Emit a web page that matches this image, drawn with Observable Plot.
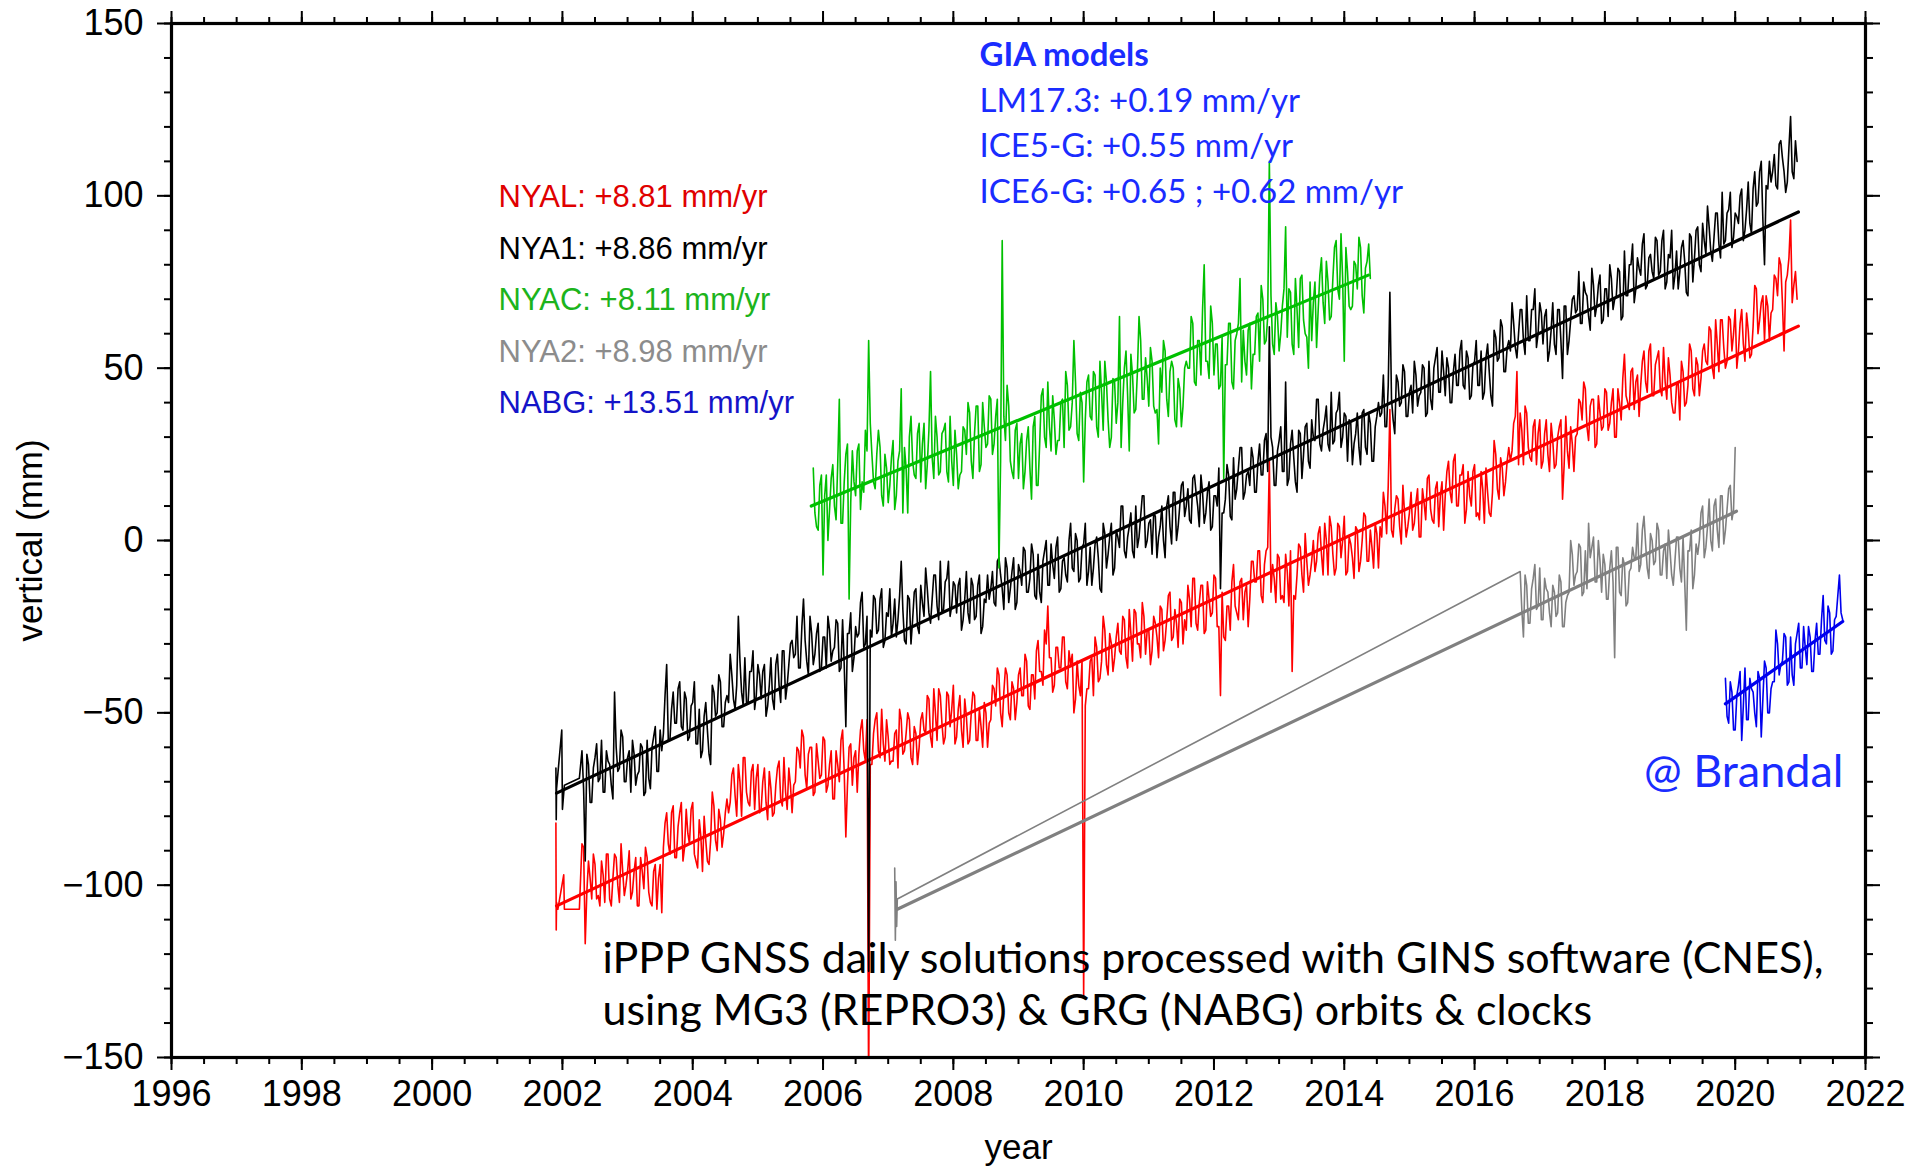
<!DOCTYPE html>
<html><head><meta charset="utf-8">
<script src="https://cdn.jsdelivr.net/npm/d3@7"></script>
<script src="https://cdn.jsdelivr.net/npm/@observablehq/plot@0.6"></script>
<style>html,body{margin:0;padding:0;background:#fff;overflow:hidden}svg{display:block}</style>
</head><body><div id="chart"></div>
<script>
const STEP = 0.025;

// NYA1 (black)
const nya1Head = [[2001.90,-66],[2001.905,-81],[2001.91,-72],[2001.99,-55],[2002.00,-78],[2002.03,-71],[2002.26,-69]];
const nya1Start = 2002.30;
const nya1Values = [
-61,-72,-93,-62,-65,-76,-76,-66,-63,-59, -70,-69,-58,-73,-73,-61,-64,-65,-71,-75,
-44,-60,-67,-66,-55,-57,-70,-70,-63,-61, -73,-58,-62,-71,-68,-67,-59,-60,-74,-73,
-58,-69,-72,-60,-57,-54,-67,-67,-55,-61, -56,-45,-36,-58,-58,-49,-44,-53,-53,-43,
-41,-54,-55,-44,-46,-58,-57,-48,-47,-41, -59,-59,-49,-63,-61,-51,-47,-55,-62,-65,
-42,-44,-51,-50,-39,-41,-54,-54,-47,-45, -47,-33,-39,-46,-49,-42,-22,-35,-44,-48,
-34,-47,-47,-38,-38,-32,-49,-45,-36,-39, -46,-38,-36,-51,-48,-42,-34,-46,-49,-36,
-33,-42,-47,-32,-32,-46,-42,-36,-30,-29, -34,-33,-22,-37,-37,-25,-17,-29,-35,-39,
-22,-27,-36,-33,-27,-24,-38,-37,-28,-28, -37,-22,-26,-35,-32,-31,-23,-24,-38,-37,
-23,-36,-54,-27,-27,-21,-38,-34,-25,-28, -27,-18,-15,-31,-30,-22,-125,-26,-28,-16,
-17,-27,-26,-17,-14,-31,-29,-21,-22,-14, -28,-24,-17,-28,-23,-16,-6,-20,-29,-30,
-16,-17,-30,-23,-15,-14,-25,-27,-13,-18, -22,-8,-14,-21,-24,-17,-10,-10,-19,-23,
-6,-21,-20,-12,-11,-6,-22,-19,-12,-13, -21,-13,-11,-26,-23,-17,-9,-21,-24,-11,
-13,-23,-22,-13,-10,-27,-25,-17,-18,-10, -17,-14,-9,-18,-19,-6,-5,-10,-14,-20,
-5,-8,-18,-14,-9,-5,-20,-18,-7,-9, -13,-2,-3,-15,-15,-11,-1,-4,-16,-17,
-4,-15,-18,-6,-3,0,-13,-13,-1,-7, -11,-2,1,-15,-14,-6,-5,-10,-12,0,
5,-8,-9,2,0,-12,-11,-2,-1,5, -13,-9,-2,-13,-8,-1,1,-5,-14,-15,
5,2,-8,-4,1,5,-10,-8,3,1, -2,10,10,-3,-5,1,4,8,-3,-5,
10,-2,1,7,13,13,-2,0,5,6, -4,8,7,-5,1,4,10,0,-5,10,
13,4,-1,14,14,0,4,10,16,17, 7,10,15,6,5,18,19,14,10,4,
19,14,5,8,14,17,3,4,13,13, 10,21,-14,8,8,12,22,19,7,6,
24,12,15,21,27,27,12,14,19,20, 16,27,24,14,14,23,28,19,19,29,
31,20,62,30,27,16,16,26,29,33, 20,20,46,16,18,28,32,24,17,14,
32,31,18,25,33,34,23,21,35,30, 29,41,41,28,26,32,35,39,28,26,
43,28,29,37,38,43,27,30,37,36, 23,35,34,22,28,31,37,27,22,37,
38,27,25,37,34,23,23,33,36,40, 36,37,48,33,33,45,72,41,35,31,
48,46,39,40,51,49,36,36,43,45, 37,52,48,39,42,43,51,50,36,37,
52,41,38,50,53,56,43,43,55,49, 42,53,50,40,40,49,54,45,45,55,
58,45,44,55,53,41,42,51,52,58, 45,45,55,41,43,53,57,49,42,39,
61,59,52,53,64,62,49,49,56,58, 55,69,63,56,53,60,67,67,58,54,
71,58,58,67,67,73,56,60,69,66, 57,65,67,52,55,61,69,57,54,67,
67,58,47,68,68,54,58,64,70,71, 66,67,78,63,63,75,72,71,65,61,
79,74,65,68,74,77,63,64,73,73, 65,80,76,67,70,71,79,78,64,65,
84,71,71,80,80,86,69,73,82,79, 77,86,89,73,74,82,83,78,76,88,
87,77,78,87,90,73,75,83,82,90, 73,77,84,73,78,85,87,81,72,71,
89,88,75,82,90,91,80,78,92,87, 83,97,91,84,81,88,95,95,86,82,
101,86,87,95,96,101,85,88,95,94, 92,100,102,87,90,96,104,92,89,102,
107,97,98,107,110,93,80,103,102,110, 104,107,112,103,102,115,116,111,107,101,
104,114,123,107,105,116,110];

// NYAL (red)
const nyalHead = [[2001.90,-82],[2001.905,-113],[2001.91,-105],[2001.93,-107],[2002.02,-97],[2002.03,-107],[2002.26,-107]];
const nyalStart = 2002.30;
const nyalValues = [
-88,-89,-117,-102,-93,-98,-104,-91,-94,-104, -103,-106,-93,-97,-105,-91,-91,-104,-106,-98,
-91,-92,-100,-105,-88,-96,-103,-100,-96,-90, -104,-102,-96,-92,-106,-106,-92,-96,-101,-89,
-92,-102,-105,-106,-96,-94,-107,-98,-94,-108, -89,-82,-79,-88,-91,-79,-77,-92,-92,-83,
-79,-76,-93,-89,-78,-85,-88,-78,-76,-91, -93,-95,-81,-86,-96,-80,-87,-93,-94,-87,
-73,-77,-87,-90,-78,-81,-89,-85,-79,-75, -79,-76,-68,-66,-74,-80,-65,-70,-80,-63,
-63,-73,-76,-77,-67,-65,-78,-69,-65,-79, -78,-70,-66,-76,-81,-67,-72,-80,-79,-71,
-66,-64,-75,-77,-63,-73,-78,-66,-71,-79, -71,-70,-60,-61,-66,-55,-57,-68,-72,-62,
-60,-60,-74,-73,-59,-64,-69,-68,-57,-58, -73,-71,-65,-61,-75,-75,-61,-65,-70,-58,
-55,-67,-86,-71,-60,-59,-71,-63,-61,-73, -62,-55,-52,-61,-64,-52,-160,-65,-65,-56,
-52,-50,-61,-63,-49,-59,-64,-52,-57,-65, -64,-64,-56,-55,-66,-49,-52,-62,-61,-56,
-50,-52,-63,-65,-54,-56,-65,-60,-52,-50, -55,-56,-45,-46,-57,-60,-43,-50,-58,-43,
-45,-53,-59,-57,-44,-45,-54,-49,-42,-59, -57,-49,-45,-55,-60,-46,-51,-59,-58,-50,
-44,-45,-58,-58,-49,-54,-60,-47,-50,-60, -53,-52,-42,-43,-48,-37,-39,-50,-54,-44,
-37,-39,-50,-52,-41,-43,-52,-47,-39,-37, -45,-45,-33,-35,-48,-49,-39,-39,-46,-32,
-29,-38,-38,-42,-26,-30,-19,-34,-34,-44, -42,-31,-31,-37,-37,-28,-28,-41,-43,-32,
-36,-33,-50,-46,-35,-42,-45,-35,-132,-48, -43,-43,-35,-34,-45,-28,-31,-41,-40,-35,
-22,-26,-36,-39,-27,-30,-38,-34,-28,-24, -32,-33,-22,-23,-34,-37,-20,-27,-35,-20,
-21,-30,-30,-34,-18,-22,-33,-26,-26,-36, -32,-22,-24,-28,-34,-19,-20,-32,-29,-23,
-16,-15,-29,-28,-20,-24,-31,-17,-18,-30, -23,-26,-13,-17,-25,-11,-11,-24,-26,-18,
-13,-13,-27,-26,-12,-17,-22,-21,-10,-11, -25,-25,-45,-15,-28,-29,-19,-19,-26,-12,
-7,-19,-21,-23,-12,-11,-23,-15,-13,-25, -17,-6,-6,-12,-12,-3,-3,-16,-18,-7,
-3,-2,23,-15,-7,-11,-18,-4,-5,-17, -16,-18,-4,-9,-19,-3,-38,-16,-17,-10,
-1,-2,-10,-15,2,-6,-13,-10,-6,0, -9,-6,2,4,-4,-10,5,0,-10,7,
4,-4,-10,-8,5,4,-5,0,7,-10, -9,1,-1,-5,-11,4,3,-9,-6,0,
8,7,-6,-6,3,-2,-8,5,2,-8, 4,1,14,10,2,16,38,3,1,9,
13,12,4,-1,16,8,1,4,8,14, 3,5,11,15,1,1,15,11,6,18,
19,9,6,5,15,17,4,13,17,3, 13,20,23,14,11,23,25,10,10,19,
19,22,5,9,20,13,10,20,22,7, 8,6,20,15,5,21,14,8,7,14,
29,25,15,12,24,21,13,17,23,27, 23,26,34,36,49,22,37,32,22,39,
37,27,24,23,33,35,22,31,35,21, 23,31,35,25,20,34,29,21,22,30,
33,35,12,22,36,26,21,33,28,20, 30,31,41,40,35,46,44,33,29,39,
41,41,27,28,42,37,32,33,44,43, 32,34,40,44,30,30,44,40,35,47,
54,42,40,38,49,50,38,46,48,36, 45,52,55,46,43,55,57,42,42,51,
53,55,44,42,56,46,41,53,48,40, 37,37,45,46,35,52,49,39,40,45,
57,55,44,42,53,51,42,47,55,57, 52,51,62,61,50,47,64,57,49,64,
64,56,50,52,65,64,55,60,67,50, 55,63,67,57,52,66,61,53,54,62,
74,73,60,64,69,71,58,71,68,58, 66,67,77,76,71,82,80,69,55,75,
77,82,93,69,74,78,70];

// NYAC (green)
const nyacHead = [];
const nyacStart = 2005.85;
const nyacValues = [
21,8,4,3,16,19,-10,13,19,0, 9,18,22,10,6,22,41,5,5,17,
25,28,-17,11,26,17,13,26,28,9, 17,14,32,26,58,34,25,17,15,25,
32,27,13,10,25,21,11,16,24,29, 9,13,23,26,44,8,27,21,8,30,
36,23,19,18,31,34,17,28,34,15, 22,32,49,24,18,36,30,19,20,31,
32,34,20,17,36,23,16,32,25,15, 19,20,33,32,25,40,37,23,18,31,
39,39,20,22,40,33,27,28,42,41, 25,28,36,41,-8,23,87,36,29,45,
39,23,20,18,32,34,18,28,31,15, 20,29,33,21,12,33,36,16,16,28,
42,44,30,27,46,33,26,42,35,25, 29,29,40,41,27,49,45,32,33,40,
58,46,31,29,43,40,17,35,46,48, 36,35,49,48,33,30,52,43,32,52,
46,35,27,30,47,46,34,40,65,27, 40,50,55,42,26,54,48,37,38,49,
65,58,41,41,53,47,39,56,52,39, 37,38,28,50,43,58,55,41,36,49,
52,50,35,33,47,44,33,39,50,52, 50,50,65,63,46,45,58,58,48,67,
80,52,52,47,68,63,48,57,57,44, 45,59,18,51,51,63,63,46,44,58,
60,63,76,46,61,52,48,61,63,44, 54,54,65,66,52,74,70,57,58,65,
110,71,57,54,69,65,55,60,68,73, 91,59,73,72,57,54,76,67,56,76,
77,64,60,59,50,75,58,69,75,56, 67,77,82,69,63,81,75,64,65,76,
85,87,73,70,89,76,52,85,78,68, 67,68,81,80,73,88,85,71,66,79,
81,86,76];

// NYA2 (gray)
const nya2Head = [[2007.10,-95],[2007.11,-116],[2007.12,-99],[2007.13,-112],[2007.14,-104]];
const nya2Start = 2016.70;
const nya2Values = [
-9,-20,-28,-10,-13,-24,-24,-14,-11,-7, -20,-19,-8,-23,-23,-11,-14,-15,-21,-25,
-13,-15,-22,-21,-10,-12,-25,-25,-18,-16, -15,0,-4,-13,-10,-9,-1,-2,-16,-15,
-3,-14,5,-5,-2,1,-12,-12,0,-6, -15,-4,-7,-17,-17,-8,-3,-12,-34,-2,
-2,-15,-16,-5,-7,-19,-18,-9,-8,-2, -5,-5,5,-9,-7,3,7,-1,-8,-11,
2,0,-7,-6,5,3,-10,-10,-3,-1, -11,3,-3,-10,-13,-6,1,1,-8,-12,
1,-12,-26,-3,-3,3,-14,-10,-1,-4, 0,8,10,-5,-2,4,12,0,-3,10,
12,3,-2,13,13,-1,3,9,15,16, 6,9,27];

// NABG (blue)
const nabgHead = [];
const nabgStart = 2019.85;
const nabgValues = [
-40,-51,-53,-41,-44,-55,-55,-45,-42,-38, -58,-48,-37,-52,-52,-40,-43,-44,-50,-54,
-38,-40,-57,-46,-35,-37,-50,-50,-43,-41, -41,-26,-30,-39,-36,-35,-27,-28,-42,-41,
-28,-39,-42,-30,-27,-24,-37,-37,-25,-31, -36,-25,-28,-38,-38,-29,-24,-33,-33,-23,
-16,-29,-30,-19,-21,-33,-32,-23,-22,-16, -10,-21,-23];

// fitted trends [year, mm]
const trendNYAL = [[2001.91,-106],[2020.97,62.2]];
const trendNYA1 = [[2001.91,-73.3],[2020.97,95.3]];
const trendNYAC = [[2005.82,10],[2014.37,77]];
const trendNYA2 = [[2007.14,-107],[2020.02,8.5]];
const trendNABG = [[2019.85,-47.4],[2021.65,-23.5]];

// texts
const legendLabels = ["NYAL: +8.81 mm/yr","NYA1: +8.86 mm/yr","NYAC: +8.11 mm/yr","NYA2: +8.98 mm/yr","NABG: +13.51 mm/yr"];
const legendColors = ["#e00000","#000000","#1cb41c","#8c8c8c","#1414c8"];
const giaLines = ["GIA models","LM17.3: +0.19 mm/yr","ICE5-G: +0.55 mm/yr","ICE6-G: +0.65 ; +0.62 mm/yr"];
const noteLines = ["iPPP GNSS daily solutions processed with GINS software (CNES),","using MG3 (REPRO3) & GRG (NABG) orbits & clocks"];
const placeLabel = "@ Brandal";
const xLabel = "year", yLabel = "vertical (mm)";
const xMajor = d3.range(1996, 2023, 2), xMinor = d3.range(1996, 2022.01, 0.5);
const yMajor = d3.range(-150, 151, 50), yMinor = d3.range(-150, 151, 10);

function series(head, start, values) {
  return head.map(([t, v]) => ({t, v})).concat(values.map((v, i) => ({t: start + i * STEP, v})));
}
const colRed = "#ff0000", colBlack = "#000000", colGreen = "#00c000", colGray = "#808080", colBlue = "#0000ee";
const fmtY = d => d < 0 ? "\u2212" + (-d) : String(d);
const none = () => "";
const sans = "Liberation Sans, Arial, Helvetica, sans-serif";
const calib = "Lato, 'Open Sans', sans-serif";

const dataLine = (d, c) => Plot.line(d, {x: "t", y: "v", stroke: c, strokeWidth: 1.6, clip: true});
const trendLine = (d, c) => Plot.line(d, {x: d => d[0], y: d => d[1], stroke: c, strokeWidth: 3.2, clip: true});
const label = (s, o) => Plot.text([s], {text: d => d, frameAnchor: "top-left", textAnchor: "start", lineAnchor: "middle", ...o});

const chart = Plot.plot({
  width: 1915, height: 1166,
  marginLeft: 171, marginRight: 50, marginTop: 23, marginBottom: 109,
  x: {domain: [1996, 2022]},
  y: {domain: [-150, 150]},
  style: {fontFamily: sans, fontSize: "36px", color: "#000", background: "#fff"},
  marks: [
    dataLine(series(nyalHead, nyalStart, nyalValues), colRed),
    trendLine(trendNYAL, colRed),
    dataLine(series(nya1Head, nya1Start, nya1Values), colBlack),
    trendLine(trendNYA1, colBlack),
    dataLine(series(nyacHead, nyacStart, nyacValues), colGreen),
    trendLine(trendNYAC, colGreen),
    dataLine(series(nya2Head, nya2Start, nya2Values), colGray),
    trendLine(trendNYA2, colGray),
    dataLine(series(nabgHead, nabgStart, nabgValues), colBlue),
    trendLine(trendNABG, colBlue),

    Plot.axisY(yMinor, {anchor: "left", tickSize: 7, tickFormat: none, strokeWidth: 2, label: null}),
    Plot.axisY(yMajor, {anchor: "left", tickSize: 14, tickPadding: 14, tickFormat: fmtY, fontSize: 36, strokeWidth: 2, label: null}),
    Plot.axisY(yMinor, {anchor: "right", tickSize: 7, tickFormat: none, strokeWidth: 2, label: null}),
    Plot.axisY(yMajor, {anchor: "right", tickSize: 14, tickFormat: none, strokeWidth: 2, label: null}),
    Plot.axisX(xMinor, {anchor: "bottom", tickSize: 7, tickFormat: none, strokeWidth: 2, label: null}),
    Plot.axisX(xMajor, {anchor: "bottom", tickSize: 13, tickPadding: 10, tickFormat: "d", fontSize: 36, strokeWidth: 2, label: null}),
    Plot.axisX(xMinor, {anchor: "top", tickSize: 7, tickFormat: none, strokeWidth: 2, label: null}),
    Plot.axisX(xMajor, {anchor: "top", tickSize: 13, tickFormat: none, strokeWidth: 2, label: null}),
    Plot.frame({stroke: "#000", strokeWidth: 3.2}),

    Plot.text([yLabel], {text: d => d, frameAnchor: "left", textAnchor: "middle", dx: -141, rotate: -90, fontSize: 35, fontFamily: sans}),
    Plot.text([xLabel], {text: d => d, frameAnchor: "bottom", textAnchor: "middle", dy: 101, fontSize: 35, fontFamily: sans}),

    ...legendLabels.map((s, i) => label(s, {dx: 327, dy: 174 + i * 51.5, fill: legendColors[i], fontSize: 31, fontFamily: sans})),
    ...giaLines.map((s, i) => label(s, {dx: 808, dy: 32 + i * 45.7, fill: "#1a2cff", fontSize: 33, fontFamily: calib, fontWeight: i === 0 ? "bold" : "normal"})),
    ...noteLines.map((s, i) => label(s, {dx: 431, dy: 936 + i * 52, fill: "#000", fontSize: 43, fontFamily: calib})),
    label(placeLabel, {dx: 1672, dy: 749, textAnchor: "end", fill: "#1a2cff", fontSize: 45, fontFamily: calib})
  ]
});
document.getElementById("chart").append(chart);
</script></body></html>
